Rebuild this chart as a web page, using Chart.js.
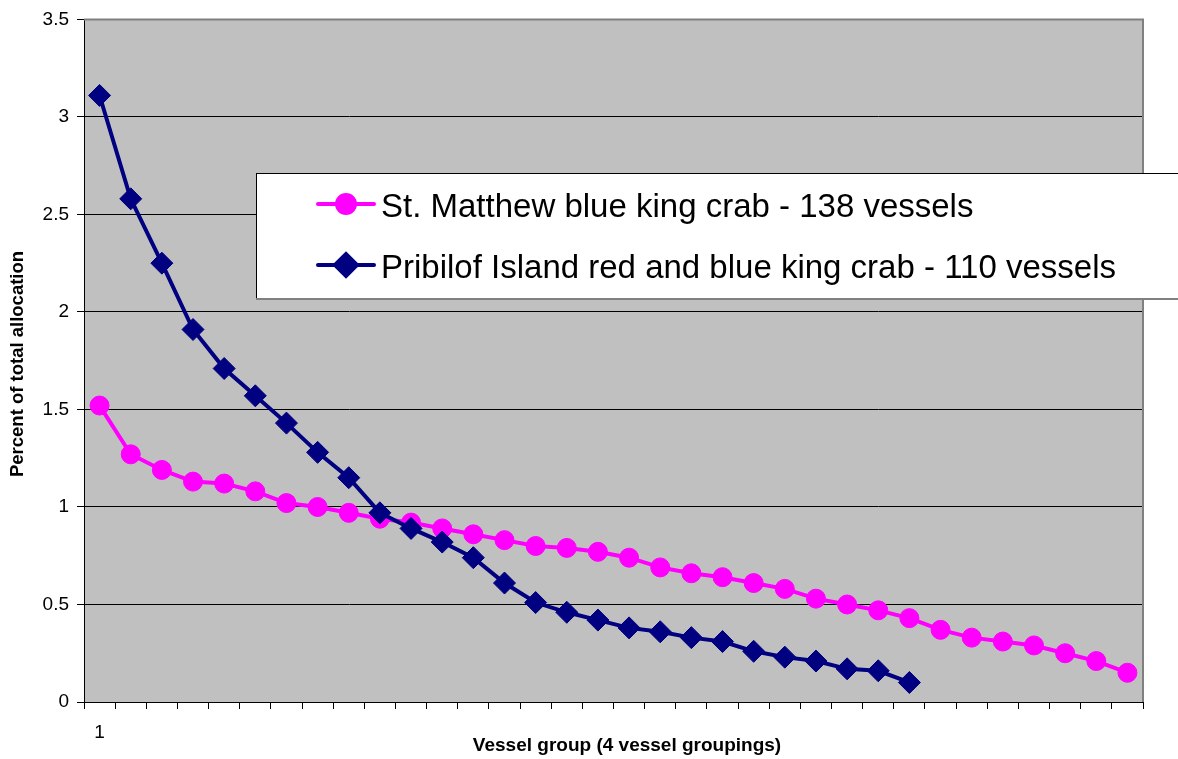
<!DOCTYPE html>
<html>
<head>
<meta charset="utf-8">
<title>Percent of total allocation by vessel group</title>
<script src="https://cdn.jsdelivr.net/npm/chart.js@4/dist/chart.umd.min.js"></script>
<style>
  html, body { margin: 0; padding: 0; background: #ffffff; }
  #wrap { width: 1178px; height: 759px; }
</style>
</head>
<body>
<div id="wrap"><canvas id="chart" width="1178" height="759"></canvas></div>
<script>
// Vessel groups (each group = 4 vessels)
const vesselGroups = ['1','2','3','4','5','6','7','8','9','10','11','12','13','14','15','16','17',
  '18','19','20','21','22','23','24','25','26','27','28','29','30','31','32','33','34'];

// Percent of total allocation held by each vessel group
const stMatthew = [1.52, 1.27, 1.19, 1.13, 1.12, 1.08, 1.02, 1.00, 0.97, 0.94, 0.92, 0.89,
  0.86, 0.83, 0.80, 0.79, 0.77, 0.74, 0.69, 0.66, 0.64, 0.61, 0.58, 0.53, 0.50, 0.47,
  0.43, 0.37, 0.33, 0.31, 0.29, 0.25, 0.21, 0.15];
const pribilof = [3.11, 2.58, 2.25, 1.91, 1.71, 1.57, 1.43, 1.28, 1.15, 0.97, 0.89, 0.82,
  0.74, 0.61, 0.51, 0.46, 0.42, 0.38, 0.36, 0.33, 0.31, 0.26, 0.23, 0.21, 0.17, 0.16, 0.10];

const seriesNames = ['St. Matthew blue king crab - 138 vessels',
                     'Pribilof Island red and blue king crab - 110 vessels'];

// Value axis
const yMin = 0, yMax = 3.5, yStep = 0.5;
// Category labels are printed only at this interval
const xLabelEvery = 35;

const FONT = '"Liberation Sans", Arial, Helvetica, sans-serif';
const PINK = '#FF00FF';
const NAVY = '#000080';
const PLOT_BG = '#C0C0C0';

// Grey plot background plus the thin grey top and right frame
const plotFrame = {
  id: 'plotFrame',
  beforeDraw(chart) {
    const { ctx, chartArea: a } = chart;
    ctx.save();
    ctx.fillStyle = PLOT_BG;
    ctx.fillRect(a.left, a.top, a.right - a.left, a.bottom - a.top);
    ctx.restore();
  },
  afterDraw(chart) {
    const { ctx, chartArea: a } = chart;
    ctx.save();
    ctx.strokeStyle = '#808080';
    ctx.lineWidth = 2;
    ctx.beginPath();
    ctx.moveTo(a.left, a.top);
    ctx.lineTo(a.right, a.top);
    ctx.lineTo(a.right, a.bottom);
    ctx.stroke();
    ctx.restore();
  }
};

// Axis titles
const axisTitles = {
  id: 'axisTitles',
  afterDraw(chart) {
    const { ctx } = chart;
    ctx.save();
    ctx.fillStyle = '#000';
    ctx.font = 'bold 19px ' + FONT;
    ctx.textAlign = 'center';
    ctx.textBaseline = 'middle';
    ctx.fillText('Vessel group (4 vessel groupings)', 627, 746);
    ctx.font = 'bold 18.5px ' + FONT;
    ctx.translate(18, 364);
    ctx.rotate(-Math.PI / 2);
    ctx.fillText('Percent of total allocation', 0, 0);
    ctx.restore();
  }
};

// Boxed legend sitting over the upper right of the plot
const boxLegend = {
  id: 'boxLegend',
  afterDraw(chart) {
    const { ctx } = chart;
    const box = { x: 256, y: 173, w: 1000, h: 126 };
    ctx.save();
    ctx.fillStyle = '#fff';
    ctx.fillRect(box.x, box.y, box.w, box.h);
    ctx.lineWidth = 1;
    ctx.strokeStyle = '#000';
    ctx.strokeRect(box.x + 0.5, box.y + 0.5, box.w, box.h);
    ctx.strokeStyle = '#808080';
    ctx.lineWidth = 2;
    ctx.beginPath();
    ctx.moveTo(box.x, box.y + box.h);
    ctx.lineTo(box.x + box.w, box.y + box.h);
    ctx.stroke();

    const rows = [204, 265];
    chart.data.datasets.forEach((ds, i) => {
      const y = rows[i];
      ctx.strokeStyle = ds.borderColor;
      ctx.lineWidth = 4;
      ctx.lineCap = 'round';
      ctx.beginPath();
      ctx.moveTo(318, y);
      ctx.lineTo(374, y);
      ctx.stroke();
      Chart.helpers.drawPoint(ctx, {
        pointStyle: ds.pointStyle,
        radius: ds.pointStyle === 'circle' ? 9 : 11,
        rotation: 0,
        borderWidth: 1
      }, 346, y);
      ctx.fillStyle = ds.backgroundColor;
      ctx.strokeStyle = ds.borderColor;
      ctx.lineWidth = 1;
      ctx.fill();
      ctx.stroke();
      ctx.fillStyle = '#000';
      ctx.font = '33px ' + FONT;
      ctx.textAlign = 'left';
      ctx.textBaseline = 'alphabetic';
      ctx.fillText(ds.label, 381, y + 13);
    });
    ctx.restore();
  }
};

new Chart(document.getElementById('chart'), {
  type: 'line',
  data: {
    labels: vesselGroups,
    datasets: [
      {
        label: seriesNames[0],
        data: stMatthew,
        borderColor: PINK,
        backgroundColor: PINK,
        borderWidth: 4,
        pointStyle: 'circle',
        pointRadius: 9.5,
        pointBorderWidth: 1,
        pointBackgroundColor: PINK,
        pointBorderColor: PINK,
        tension: 0,
        order: 1
      },
      {
        label: seriesNames[1],
        data: pribilof,
        borderColor: NAVY,
        backgroundColor: NAVY,
        borderWidth: 4,
        pointStyle: 'rectRot',
        pointRadius: 11,
        pointBorderWidth: 1,
        pointBackgroundColor: NAVY,
        pointBorderColor: NAVY,
        tension: 0,
        order: 0
      }
    ]
  },
  options: {
    responsive: false,
    animation: false,
    devicePixelRatio: 1,
    layout: { padding: { top: 17, right: 35, left: 0, bottom: 0 } },
    plugins: {
      legend: { display: false },
      tooltip: { enabled: false },
      title: { display: false }
    },
    scales: {
      x: {
        type: 'category',
        offset: true,
        afterFit(scale) { scale.height = 57; },
        grid: {
          display: true,
          offset: true,
          drawOnChartArea: false,
          drawTicks: true,
          tickLength: 7,
          tickColor: '#000',
          tickWidth: 1
        },
        border: { display: true, color: '#000', width: 1 },
        ticks: {
          autoSkip: false,
          maxRotation: 0,
          minRotation: 0,
          padding: 12,
          color: '#000',
          font: { family: FONT, size: 19 },
          callback(value, index) {
            return index % xLabelEvery === 0 ? this.getLabelForValue(value) : '';
          }
        }
      },
      y: {
        min: yMin,
        max: yMax,
        afterFit(scale) { scale.width = 84; },
        grid: {
          color: (c) => (c.tick && c.tick.value === yMax ? 'rgba(0,0,0,0)' : '#000'),
          lineWidth: 1,
          drawTicks: true,
          tickLength: 7,
          tickColor: '#000'
        },
        border: { display: true, color: '#000', width: 1 },
        ticks: {
          stepSize: yStep,
          padding: 8,
          color: '#000',
          font: { family: FONT, size: 19 },
          callback: (v) => String(Math.round(v * 10) / 10)
        }
      }
    }
  },
  plugins: [plotFrame, axisTitles, boxLegend]
});
</script>
</body>
</html>
